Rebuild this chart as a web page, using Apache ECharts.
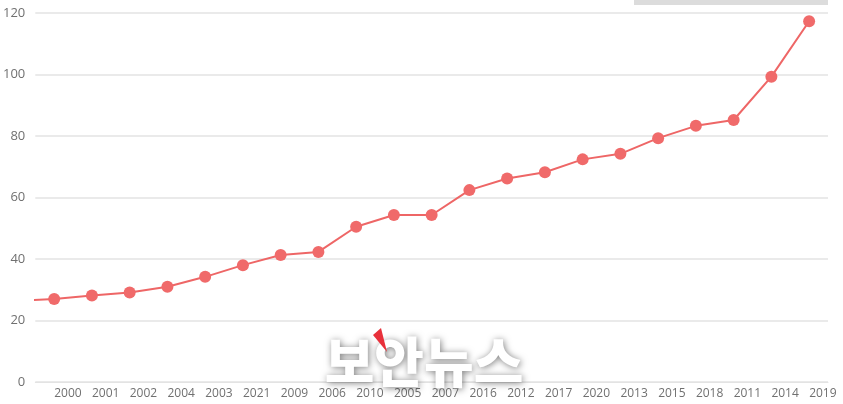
<!DOCTYPE html>
<html>
<head>
<meta charset="utf-8">
<script src="https://cdn.jsdelivr.net/npm/echarts@6/dist/echarts.min.js"></script>
<style>
html,body{margin:0;padding:0;background:#fff;}
#chart{width:843px;height:404px;}
</style>
</head>
<body>
<div id="chart"></div>
<script>
// Leading category is off-screen (only its line stub is visible at the left edge)
const categories = ['1999','2000','2001','2002','2004','2003','2021','2009','2006','2010','2005','2007','2016','2012','2017','2020','2013','2015','2018','2011','2014','2019'];
const values = [26.4, 27, 28.1, 29.1, 31, 34.2, 38, 41.3, 42.3, 50.5, 54.3, 54.3, 62.4, 66.2, 68.2, 72.4, 74.2, 79.3, 83.3, 85.2, 99.3, 117.3];
const yTicks = [0, 20, 40, 60, 80, 100, 120];
const watermark = '보안뉴스';

const chart = echarts.init(document.getElementById('chart'));
chart.setOption({
  animation: false,
  grid: { left: 35, right: 15, top: 13, bottom: 22, containLabel: false },
  dataZoom: [{ type: 'inside', xAxisIndex: 0, startValue: 1, endValue: categories.length - 1, filterMode: 'none', zoomLock: true }],
  xAxis: {
    type: 'category',
    data: categories,
    boundaryGap: true,
    axisLine: { show: true, lineStyle: { color: '#e3e3e3' } },
    axisTick: { show: false },
    axisLabel: { align: 'left', color: '#707070', fontSize: 12, fontFamily: 'Open Sans', margin: 6, interval: 0 }
  },
  yAxis: {
    type: 'value',
    min: yTicks[0], max: yTicks[yTicks.length - 1], interval: 20,
    axisLine: { show: false },
    axisTick: { show: false },
    axisLabel: { color: '#707070', fontSize: 13, fontFamily: 'Open Sans', margin: 10 },
    splitLine: { lineStyle: { color: '#e3e3e3', width: 1.5 } }
  },
  series: [{
    type: 'line',
    data: values,
    symbol: 'circle',
    symbolSize: 12,
    clip: true,
    itemStyle: { color: '#f06a6a' },
    lineStyle: { color: '#ee6666', width: 2 }
  }],
  graphic: [
    { type: 'rect', left: 634, top: 0, shape: { width: 194, height: 5 }, style: { fill: '#dcdcdc' }, z: 10 },
    { type: 'text', x: 424, y: 362, z: 100,
      style: { text: watermark, fill: '#ffffff', font: '900 54px "Noto Sans CJK KR"', align: 'center', verticalAlign: 'middle',
               textShadowColor: 'rgba(0,0,0,0.5)', textShadowBlur: 7, textShadowOffsetX: 1, textShadowOffsetY: 1,
               shadowColor: 'rgba(0,0,0,0.5)', shadowBlur: 7, shadowOffsetX: 1, shadowOffsetY: 1 } },
    { type: 'polygon', z: 102, shape: { points: [[373, 335], [381, 328], [387, 352]] }, style: { fill: '#e8303a' } }
  ]
});
</script>
</body>
</html>
